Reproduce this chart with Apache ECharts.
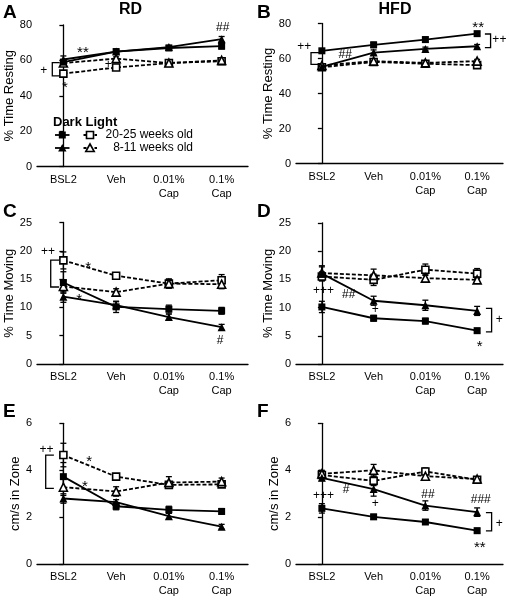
<!DOCTYPE html>
<html><head><meta charset="utf-8">
<script src="https://cdn.jsdelivr.net/npm/echarts@6/dist/echarts.min.js"></script>
<style>html,body{margin:0;padding:0;background:#fff}#c{width:509px;height:600px}</style>
</head><body><div id="c"></div>
<script>
// ---------- data ----------
const categories = ['BSL2', 'Veh', '0.01%\nCap', '0.1%\nCap'];
const groupNames = ['Dark 20-25 weeks old', 'Dark 8-11 weeks old', 'Light 20-25 weeks old', 'Light 8-11 weeks old'];

// A: RD, % Time Resting
const aDark20 = [59, 65, 67, 68];
const aDark20Err = [1.5, 1.2, 1.0, 1.5];
const aDark8 = [60.5, 65, 67.5, 72];
const aDark8Err = [2, 1, 1, 1.5];
const aLight20 = [52.5, 56, 58.5, 59.5];
const aLight20Err = [1.5, 1.2, 1, 1];
const aLight8 = [58.5, 61, 58.5, 60];
const aLight8Err = [1.5, 1, 1, 1];

// B: HFD, % Time Resting
const bDark20 = [64.4, 67.8, 70.8, 74.2];
const bDark20Err = [1, 1.5, 1.5, 1];
const bDark8 = [55.2, 63.4, 65.5, 67];
const bDark8Err = [1, 1.5, 1, 1];
const bLight20 = [55, 58, 57, 56.2];
const bLight20Err = [1.2, 1, 1, 1];
const bLight8 = [56, 58.5, 57.5, 58.5];
const bLight8Err = [1, 1, 1, 1];

// C: RD, % Time Moving
const cDark20 = [14.4, 10.1, 9.7, 9.4];
const cDark20Err = [1.9, 1.0, 0.7, 0.6];
const cDark8 = [11.9, 10.4, 8.3, 6.5];
const cDark8Err = [1.0, 0.6, 0.5, 0.5];
const cLight20 = [18.3, 15.6, 14.2, 14.8];
const cLight20Err = [1.5, 0.5, 0.8, 1.0];
const cLight8 = [13.7, 12.7, 14.2, 14.1];
const cLight8Err = [1.0, 0.6, 0.8, 0.8];

// D: HFD, % Time Moving
const dDark20 = [10.1, 8.1, 7.6, 5.9];
const dDark20Err = [1.0, 0.5, 0.5, 0.4];
const dDark8 = [16.0, 11.2, 10.4, 9.4];
const dDark8Err = [1.2, 0.8, 0.9, 0.8];
const dLight20 = [15.5, 14.9, 16.7, 16.0];
const dLight20Err = [0.8, 1.0, 1.0, 0.9];
const dLight8 = [16.1, 15.7, 15.2, 14.9];
const dLight8Err = [1.3, 1.1, 0.6, 0.6];

// E: RD, cm/s in Zone
const eDark20 = [3.73, 2.47, 2.32, 2.25];
const eDark20Err = [0.6, 0.15, 0.15, 0.12];
const eDark8 = [2.8, 2.65, 2.05, 1.6];
const eDark8Err = [0.2, 0.1, 0.12, 0.1];
const eLight20 = [4.65, 3.73, 3.38, 3.4];
const eLight20Err = [0.5, 0.12, 0.12, 0.12];
const eLight8 = [3.28, 3.1, 3.48, 3.52];
const eLight8Err = [0.35, 0.2, 0.25, 0.15];

// F: HFD, cm/s in Zone
const fDark20 = [2.38, 2.02, 1.8, 1.43];
const fDark20Err = [0.2, 0.1, 0.1, 0.1];
const fDark8 = [3.68, 3.2, 2.5, 2.22];
const fDark8Err = [0.12, 0.3, 0.2, 0.18];
const fLight20 = [3.8, 3.55, 3.95, 3.6];
const fLight20Err = [0.15, 0.2, 0.15, 0.1];
const fLight8 = [3.85, 4.0, 3.75, 3.63];
const fLight8Err = [0.15, 0.25, 0.15, 0.1];

// y-axis ticks: [min, max, interval]
const yTicksResting = [0, 80, 20];
const yTicksMoving = [0, 25, 5];
const yTicksSpeed = [0, 6, 2];

// significance annotations: [category position, value, text]
const aNotes = [[0.37, 66.1, '**'], [3.02, 78.3, '##'], [-0.37, 54, '+'], [0.03, 46.5, '*'], [0.85, 57.6, '+']];
const bNotes = [[-0.34, 66.6, '++'], [0.45, 61.9, '##'], [3.02, 79.5, '**'], [3.43, 70.5, '++']];
const cNotes = [[-0.29, 19.8, '++'], [0.47, 17.6, '*'], [0.3, 12.0, '*'], [2.97, 4.2, '#']];
const dNotes = [[0.03, 12.9, '+++'], [0.52, 12.3, '##'], [1.03, 9.55, '+'], [3.43, 7.8, '+'], [3.05, 3.7, '*']];
const eNotes = [[-0.32, 4.87, '++'], [0.49, 4.5, '*'], [0.41, 3.45, '*']];
const fNotes = [[0.03, 2.91, '+++'], [0.47, 3.19, '#'], [1.03, 2.57, '+'], [2.05, 2.98, '##'], [3.07, 2.74, '###'], [3.43, 1.74, '+'], [3.05, 0.85, '**']];
// brackets: [open end, spine, value 1, value 2]
const aBrackets = [[-0.07, -0.21, 58.7, 51.2]];
const bBrackets = [[-0.03, -0.21, 63.4, 56.6], [3.15, 3.26, 74, 66.2]];
const cBrackets = [[-0.08, -0.24, 18.35, 13.6]];
const dBrackets = [[3.17, 3.28, 9.85, 5.7]];
const eBrackets = [[-0.18, -0.335, 4.65, 3.23]];
const fBrackets = [[3.17, 3.28, 2.2, 1.42]];

// ---------- layout ----------
const panels = [
  { letter: 'A', yName: '% Time Resting', ticks: yTicksResting, grid: { left: 37, top: 25, width: 211, height: 141.5 }, nameGap: 19,
    vals: [aDark20, aDark8, aLight20, aLight8], errs: [aDark20Err, aDark8Err, aLight20Err, aLight8Err], notes: aNotes, brackets: aBrackets },
  { letter: 'B', yName: '% Time Resting', ticks: yTicksResting, grid: { left: 296, top: 23.5, width: 207, height: 140 }, nameGap: 21,
    vals: [bDark20, bDark8, bLight20, bLight8], errs: [bDark20Err, bDark8Err, bLight20Err, bLight8Err], notes: bNotes, brackets: bBrackets },
  { letter: 'C', yName: '% Time Moving', ticks: yTicksMoving, grid: { left: 37, top: 222.5, width: 211, height: 141.5 }, nameGap: 20,
    vals: [cDark20, cDark8, cLight20, cLight8], errs: [cDark20Err, cDark8Err, cLight20Err, cLight8Err], notes: cNotes, brackets: cBrackets },
  { letter: 'D', yName: '% Time Moving', ticks: yTicksMoving, grid: { left: 296, top: 222.8, width: 207, height: 141.2 }, nameGap: 21,
    vals: [dDark20, dDark8, dLight20, dLight8], errs: [dDark20Err, dDark8Err, dLight20Err, dLight8Err], notes: dNotes, brackets: dBrackets },
  { letter: 'E', yName: 'cm/s in Zone', ticks: yTicksSpeed, grid: { left: 37, top: 423.3, width: 211, height: 141 }, nameGap: 13,
    vals: [eDark20, eDark8, eLight20, eLight8], errs: [eDark20Err, eDark8Err, eLight20Err, eLight8Err], notes: eNotes, brackets: eBrackets },
  { letter: 'F', yName: 'cm/s in Zone', ticks: yTicksSpeed, grid: { left: 296, top: 423.3, width: 207, height: 141 }, nameGap: 15,
    vals: [fDark20, fDark8, fLight20, fLight8], errs: [fDark20Err, fDark8Err, fLight20Err, fLight8Err], notes: fNotes, brackets: fBrackets }
];

const styles = [
  { symbol: 'rect', size: 7, open: false, dash: 'solid' },
  { symbol: 'triangle', size: 8, open: false, dash: 'solid' },
  { symbol: 'rect', size: 7, open: true, dash: [4, 2] },
  { symbol: 'triangle', size: 8, open: true, dash: [4, 2] }
];

const FONT = 'Liberation Sans, Arial, sans-serif';
const grids = [], xAxes = [], yAxes = [], series = [];
const N = panels.length;

panels.forEach((p, g) => {
  grids.push(Object.assign({ containLabel: false }, p.grid));
  xAxes.push({
    type: 'category', gridIndex: g, data: categories, boundaryGap: true,
    axisLine: { lineStyle: { color: '#000', width: 1.3 } },
    axisTick: { alignWithLabel: true, length: 4, lineStyle: { color: '#000', width: 1.3 } },
    axisLabel: { color: '#000', fontSize: 11, fontFamily: FONT, margin: 6, lineHeight: 14, interval: 0 },
    splitLine: { show: false }
  });
  yAxes.push({
    type: 'value', gridIndex: g, min: p.ticks[0], max: p.ticks[1], interval: p.ticks[2],
    name: p.yName, nameLocation: 'middle', nameGap: p.nameGap, nameRotate: 90,
    nameTextStyle: { color: '#000', fontSize: 13, fontFamily: FONT },
    axisLine: { show: true, lineStyle: { color: '#000', width: 1.3 } },
    axisTick: { show: true, length: 4, lineStyle: { color: '#000', width: 1.3 } },
    axisLabel: { color: '#000', fontSize: 11, fontFamily: FONT, margin: 5 },
    splitLine: { show: false }
  });
});
// hidden value axes, aligned with category centres
panels.forEach((p, g) => {
  xAxes.push({ type: 'value', gridIndex: g, min: -0.5, max: 3.5, show: false });
});

panels.forEach((p, g) => {
  // error bars
  const errData = [];
  p.vals.forEach((vals, s) => vals.forEach((v, i) => errData.push([i, v, p.errs[s][i]])));
  series.push({
    type: 'custom', xAxisIndex: N + g, yAxisIndex: g, z: 1, silent: true,
    data: errData,
    renderItem: (params, api) => {
      const x = api.value(0), v = api.value(1), e = api.value(2);
      const t = api.coord([x, v + e]), b = api.coord([x, v - e]);
      const w = 3, st = { stroke: '#000', lineWidth: 1.3 };
      return { type: 'group', children: [
        { type: 'line', shape: { x1: t[0], y1: t[1], x2: b[0], y2: b[1] }, style: st },
        { type: 'line', shape: { x1: t[0] - w, y1: t[1], x2: t[0] + w, y2: t[1] }, style: st },
        { type: 'line', shape: { x1: b[0] - w, y1: b[1], x2: b[0] + w, y2: b[1] }, style: st }
      ] };
    }
  });
  // lines
  p.vals.forEach((vals, s) => {
    const st = styles[s];
    series.push({
      type: 'line', name: groupNames[s], xAxisIndex: g, yAxisIndex: g, z: s < 2 ? 3 : 2,
      data: vals, symbol: st.symbol, symbolSize: st.size, showSymbol: true,
      lineStyle: { color: '#000', width: 1.8, type: st.dash },
      itemStyle: st.open ? { color: '#fff', borderColor: '#000', borderWidth: 1.6 } : { color: '#000', borderColor: '#000', borderWidth: 0 },
      emphasis: { disabled: true }, silent: true
    });
  });
  // annotations
  const notes = p.notes;
  series.push({
    type: 'custom', xAxisIndex: N + g, yAxisIndex: g, z: 5, silent: true,
    data: notes.map(n => [n[0], n[1]]),
    renderItem: (params, api) => {
      const pt = api.coord([api.value(0), api.value(1)]);
      const txt = notes[params.dataIndex][2];
      const star = txt.indexOf('*') >= 0;
      return { type: 'text', x: pt[0], y: pt[1] + (star ? 3.5 : 0),
        style: { text: txt, fill: '#000', font: (star ? 15 : 12) + 'px ' + FONT, align: 'center', verticalAlign: 'middle' } };
    }
  });
  // brackets
  const br = p.brackets;
  series.push({
    type: 'custom', xAxisIndex: N + g, yAxisIndex: g, z: 5, silent: true,
    data: br.map(b => [b[0], b[1], b[2], b[3]]),
    renderItem: (params, api) => {
      const xa = api.value(0), xb = api.value(1), y1 = api.value(2), y2 = api.value(3);
      const pts = [api.coord([xa, y1]), api.coord([xb, y1]), api.coord([xb, y2]), api.coord([xa, y2])];
      return { type: 'polyline', shape: { points: pts }, style: { stroke: '#000', lineWidth: 1.3, fill: null } };
    }
  });
});

// ---------- static text / legend ----------
const graphic = [];
const letterPos = [[3, 13], [257, 13], [3, 211.7], [257, 211.7], [3, 411.7], [257, 411.7]];
panels.forEach((p, g) => {
  graphic.push({ type: 'text', x: letterPos[g][0], y: letterPos[g][1],
    style: { text: p.letter, font: 'bold 19px ' + FONT, fill: '#000', align: 'left', verticalAlign: 'middle' } });
});
graphic.push({ type: 'text', x: 130.5, y: 10, style: { text: 'RD', font: 'bold 16px ' + FONT, fill: '#000', align: 'center', verticalAlign: 'middle' } });
graphic.push({ type: 'text', x: 395, y: 10, style: { text: 'HFD', font: 'bold 16px ' + FONT, fill: '#000', align: 'center', verticalAlign: 'middle' } });

// legend
const legendChildren = [];
legendChildren.push({ type: 'text', x: 53, y: 122, style: { text: 'Dark Light', font: 'bold 13px ' + FONT, fill: '#000', align: 'left', verticalAlign: 'middle' } });
const rowY = [135, 148];
const legendText = ['20-25 weeks old', '8-11 weeks old'];
rowY.forEach((y, r) => {
  legendChildren.push({ type: 'line', shape: { x1: 55, y1: y, x2: 69.5, y2: y }, style: { stroke: '#000', lineWidth: 1.8 } });
  legendChildren.push({ type: 'line', shape: { x1: 83.5, y1: y, x2: 97, y2: y }, style: { stroke: '#000', lineWidth: 1.8, lineDash: [3, 2.5] } });
  if (r === 0) {
    legendChildren.push({ type: 'rect', shape: { x: 62.3 - 3.5, y: y - 3.5, width: 7, height: 7 }, style: { fill: '#000' } });
    legendChildren.push({ type: 'rect', shape: { x: 90 - 3.5, y: y - 3.5, width: 7, height: 7 }, style: { fill: '#fff', stroke: '#000', lineWidth: 1.6 } });
  } else {
    legendChildren.push({ type: 'polygon', shape: { points: [[62.3, y - 4], [66.5, y + 3.5], [58.1, y + 3.5]] }, style: { fill: '#000' } });
    legendChildren.push({ type: 'polygon', shape: { points: [[90, y - 4], [94.2, y + 3.5], [85.8, y + 3.5]] }, style: { fill: '#fff', stroke: '#000', lineWidth: 1.6 } });
  }
  legendChildren.push({ type: 'text', x: 193, y: y, style: { text: legendText[r], font: '12px ' + FONT, fill: '#000', align: 'right', verticalAlign: 'middle' } });
});
graphic.push({ type: 'group', children: legendChildren });

const chart = echarts.init(document.getElementById('c'), null, { renderer: 'canvas' });
chart.setOption({
  animation: false,
  backgroundColor: '#fff',
  textStyle: { fontFamily: FONT },
  grid: grids, xAxis: xAxes, yAxis: yAxes, series: series, graphic: graphic
});
</script>
</body></html>
